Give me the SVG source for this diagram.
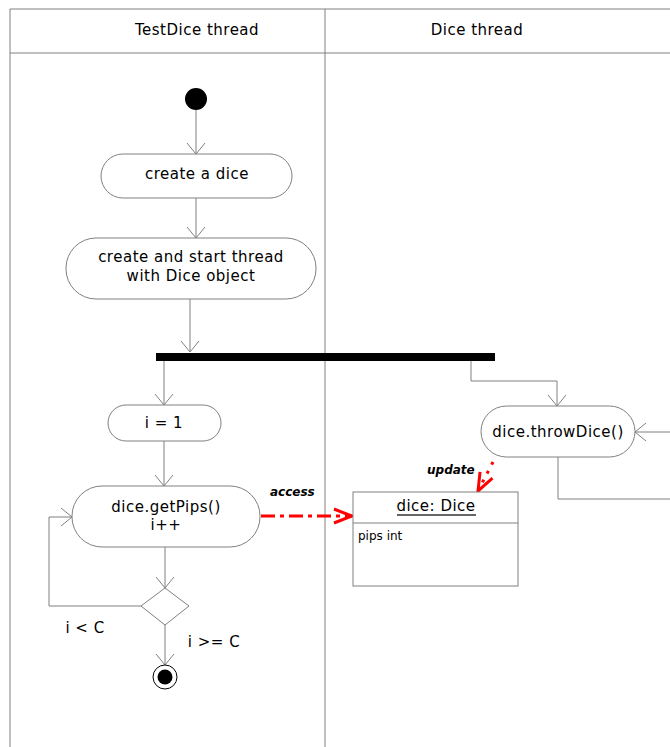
<svg xmlns="http://www.w3.org/2000/svg" width="670" height="747" viewBox="0 0 670 747">
<style>
.ln{fill:none;stroke:#808080;stroke-width:1}
.nd{fill:#fff;stroke:#808080;stroke-width:1}
.t{font-family:"DejaVu Sans",Verdana,sans-serif;font-size:15px;letter-spacing:0.5px;fill:#000;text-anchor:middle}
.lb{font-family:"DejaVu Sans",Verdana,sans-serif;font-size:12px;font-weight:bold;font-style:italic;fill:#000}
.red{fill:none;stroke:#ff0000;stroke-width:3}
</style>
<defs>
<marker id="ar" markerWidth="12" markerHeight="20" refX="11" refY="10" orient="auto" markerUnits="userSpaceOnUse"><path d="M0,1 L11,10 L0,19" fill="none" stroke="#808080" stroke-width="1"/></marker>
<marker id="ra" markerWidth="22" markerHeight="22" refX="20" refY="11" orient="auto" markerUnits="userSpaceOnUse"><path d="M2,4 L20,11 L2,18" fill="none" stroke="#ff0000" stroke-width="3"/></marker>
</defs>
<rect width="670" height="747" fill="#fff"/>
<g id="swimlanes">
<path class="ln" d="M10,747 V9 H670 M10,53 H670 M325,9 V747" stroke="#999"/>
<text class="t" x="197" y="35">TestDice thread</text>
<text class="t" x="477" y="35">Dice thread</text>
</g>
<g id="connectors">
<path class="ln" d="M196,110 V154" marker-end="url(#ar)"/>
<path class="ln" d="M196,198 V238" marker-end="url(#ar)"/>
<path class="ln" d="M190,299 V352" marker-end="url(#ar)"/>
<path class="ln" d="M164,361 V405" marker-end="url(#ar)"/>
<path class="ln" d="M471,361 V381 H557 V406" marker-end="url(#ar)"/>
<path class="ln" d="M164,441 V486" marker-end="url(#ar)"/>
<path class="ln" d="M165,547 V588" marker-end="url(#ar)"/>
<path class="ln" d="M141,606 H49 V517 H72" marker-end="url(#ar)"/>
<path class="ln" d="M165,625 V665" marker-end="url(#ar)"/>
<path class="ln" d="M670,432 H635" marker-end="url(#ar)"/>
<path class="ln" d="M558,457 V499 H670"/>
<path class="red" d="M261,516 H352" stroke-dasharray="14,5,4,5" marker-end="url(#ra)"/>
<path class="red" d="M493,462 L478,491" stroke-dasharray="3,7" marker-end="url(#ra)"/>
<text class="lb" x="270" y="496">access</text>
<text class="lb" x="427" y="474">update</text>
<text class="t" x="85" y="633">i &lt; C</text>
<text class="t" x="214" y="647">i &gt;= C</text>
</g>
<g id="start"><circle cx="196" cy="99" r="11" fill="#000"/></g>
<g id="createDice"><rect class="nd" x="101" y="154" width="191" height="44" rx="22"/><text class="t" x="197" y="179">create a dice</text></g>
<g id="createThread"><rect class="nd" x="66" y="238" width="250" height="61" rx="30"/><text class="t" x="191" y="262">create and start thread</text><text class="t" x="191" y="281">with Dice object</text></g>
<g id="fork"><rect x="156" y="353" width="339" height="8" fill="#000"/></g>
<g id="init"><rect class="nd" x="108" y="405" width="113" height="36" rx="18"/><text class="t" x="164" y="428">i = 1</text></g>
<g id="getPips"><rect class="nd" x="72" y="486" width="188" height="61" rx="30"/><text class="t" x="166" y="512">dice.getPips()</text><text class="t" x="166" y="530">i++</text></g>
<g id="decision"><path class="nd" d="M165,588 L189,606 L165,625 L141,606 Z"/></g>
<g id="end"><circle cx="165" cy="677" r="12" fill="#fff" stroke="#000"/><circle cx="165" cy="677" r="7.5" fill="#000"/></g>
<g id="throwDice"><rect class="nd" x="481" y="406" width="154" height="51" rx="25.5"/><text class="t" x="558" y="437">dice.throwDice()</text></g>
<g id="diceObj"><rect class="nd" x="353" y="492" width="165" height="94"/><path class="ln" d="M353,523 H518"/><text class="t" x="436" y="511">dice:  Dice</text><path d="M397,515 H476" stroke="#333" stroke-width="1.5"/><text x="358" y="540" style="font-family:'DejaVu Sans',Verdana,sans-serif;font-size:12px">pips int</text></g>
</svg>
